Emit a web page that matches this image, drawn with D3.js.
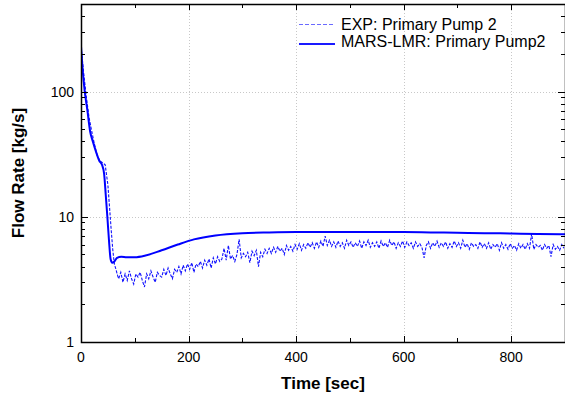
<html>

<head>
    <meta charset="UTF-8">
    <script src="https://d3js.org/d3.v7.min.js"></script>
    <title>Primary pump flow</title>
    <style>
        body { margin: 0; background: #fff; }
        text { font-family: Arial, "Liberation Sans", sans-serif; }
    </style>
</head>

<body>
    <svg width="565" height="398"></svg>

    <script>
        // MARS-LMR calculation (solid line)
        const marsTime = [0, 3, 7, 12, 17, 22, 28, 34, 39, 43, 46, 49, 52, 55, 58, 62, 67, 75, 85, 100,
            120, 150, 180, 210, 250, 300, 350, 400, 450, 500, 550, 600, 650, 700, 750, 800, 850, 900];
        const marsFlow = [230, 150, 100, 70, 48, 40, 33, 28, 26, 22, 15, 10, 6.5, 4.6, 4.3, 4.4, 4.7, 4.8, 4.75, 4.75,
            4.9, 5.4, 6.0, 6.6, 7.1, 7.4, 7.5, 7.55, 7.55, 7.55, 7.55, 7.55, 7.5, 7.45, 7.4, 7.35, 7.3, 7.25];

        // experiment, start of transient
        const expEarlyTime = [0, 5, 10, 15, 20, 25, 30, 35, 40, 45, 50, 53, 56, 59, 62, 65, 68];
        const expEarlyFlow = [230, 140, 90, 62, 48, 38, 31, 28, 27, 26, 18, 12, 8, 5.5, 4.2, 3.8, 3.4];

        // experiment, noisy part: one reading every 4 s from t = 70 s
        const expNoiseStart = 70;
        const expNoiseStep = 4;
        const expNoiseFlow = [
            3.2, 3.6, 3.0, 3.5, 3.1, 3.7, 3.2, 2.9, 3.5, 3.3,
            3.6, 3.1, 2.75, 3.5, 3.2, 3.7, 3.3, 3.0, 3.6, 3.4,
            3.3, 3.8, 3.4, 3.9, 3.5, 3.2, 3.8, 3.6, 4.0, 3.5,
            4.1, 3.7, 4.2, 3.8, 4.3, 3.6, 4.2, 4.0, 4.4, 3.9,
            4.5, 4.1, 4.6, 3.9, 4.7, 4.2, 4.8, 4.4, 4.6, 5.6,
            4.5, 5.9, 4.6, 4.9, 4.4, 5.0, 6.6, 4.7, 5.1, 4.8,
            5.2, 4.3, 5.3, 4.9, 5.4, 4.0, 5.2, 4.8, 5.5, 5.1,
            5.6, 5.1, 5.7, 5.2, 5.8, 5.3, 5.6, 5.0, 5.9, 5.4,
            5.8, 5.3, 6.0, 5.5, 6.1, 5.4, 6.0, 5.6, 6.2, 5.7,
            6.2, 5.6, 6.3, 5.7, 6.4, 5.8, 7.0, 5.9, 6.5, 5.8,
            6.3, 5.7, 6.4, 5.8, 6.2, 5.6, 6.5, 5.9, 6.3, 5.7,
            6.2, 5.8, 6.4, 5.6, 6.3, 5.9, 6.5, 5.7, 6.2, 5.8,
            6.3, 5.6, 6.4, 5.8, 6.2, 5.7, 6.5, 5.9, 6.3, 5.6,
            6.2, 5.8, 6.4, 5.7, 6.3, 5.9, 6.2, 5.6, 6.3, 5.8,
            6.1, 5.7, 4.7, 5.9, 6.3, 5.6, 6.2, 5.8, 6.4, 5.7,
            6.2, 5.8, 6.3, 5.6, 6.1, 5.7, 6.4, 5.8, 6.2, 5.6,
            6.5, 5.7, 6.1, 5.5, 6.2, 5.8, 6.0, 5.6, 6.3, 5.7,
            6.1, 5.6, 6.2, 5.5, 6.0, 5.7, 6.1, 5.4, 6.2, 5.6,
            6.0, 5.5, 6.1, 5.6, 5.9, 5.4, 6.1, 5.6, 6.0, 5.5,
            6.1, 5.6, 7.3, 5.5, 6.0, 5.7, 5.9, 5.4, 6.0, 5.6,
            5.9, 4.8, 6.0, 5.5, 5.8, 5.4, 6.0, 5.6
        ];

        const xMajor = [0, 200, 400, 600, 800];
        const xMinor = [100, 300, 500, 700, 900];
        const yMajor = [1, 10, 100];
        const yMinor = [2, 3, 4, 5, 6, 7, 8, 9, 20, 30, 40, 50, 60, 70, 80, 90, 200, 300, 400];
        const legendNames = ['EXP: Primary Pump 2', 'MARS-LMR: Primary Pump2'];

        const pLeft = 81, pRight = 565, pTop = 4, pBottom = 342;
        const svg = d3.select('svg');

        const x = d3.scaleLinear().domain([0, 900]).range([pLeft, pRight]);
        const y = d3.scaleLog().domain([1, 500]).range([pBottom, pTop]);

        // dotted grid at major ticks
        const grid = svg.append('g')
            .attr('stroke', '#c8c8c8')
            .attr('stroke-width', 1)
            .attr('stroke-dasharray', '1,2');
        grid.selectAll('.gx').data(xMajor.slice(1)).join('line')
            .attr('x1', d => Math.round(x(d)) + 0.5).attr('x2', d => Math.round(x(d)) + 0.5)
            .attr('y1', pTop).attr('y2', pBottom);
        grid.selectAll('.gy').data(yMajor.slice(1)).join('line')
            .attr('y1', d => Math.round(y(d)) + 0.5).attr('y2', d => Math.round(y(d)) + 0.5)
            .attr('x1', pLeft).attr('x2', pRight);

        // data
        const expData = expEarlyTime.map((t, i) => [t, expEarlyFlow[i]])
            .concat(expNoiseFlow.map((v, i) => [expNoiseStart + i * expNoiseStep, v]));
        const marsData = marsTime.map((t, i) => [t, marsFlow[i]]);

        const line = d3.line().x(d => x(d[0])).y(d => y(d[1]));
        const smooth = d3.line().x(d => x(d[0])).y(d => y(d[1])).curve(d3.curveMonotoneX);

        svg.append('defs').append('clipPath').attr('id', 'clip')
            .append('rect').attr('x', pLeft).attr('y', pTop)
            .attr('width', pRight - pLeft).attr('height', pBottom - pTop);

        const plot = svg.append('g').attr('clip-path', 'url(#clip)');
        plot.append('path').datum(expData)
            .attr('d', line)
            .attr('fill', 'none')
            .attr('stroke', '#1010ff')
            .attr('stroke-width', 1.1)
            .attr('stroke-dasharray', '3,1.5');
        plot.append('path').datum(marsData)
            .attr('d', smooth)
            .attr('fill', 'none')
            .attr('stroke', '#0000ff')
            .attr('stroke-width', 2);

        // axes: ticks point inward on all four sides
        const frame = svg.append('g').attr('stroke', '#000');
        frame.append('rect')
            .attr('x', pLeft + 0.5).attr('y', pTop + 0.5)
            .attr('width', pRight - pLeft).attr('height', pBottom - pTop)
            .attr('fill', 'none').attr('stroke-width', 1.5);

        function xTicks(vals, len) {
            vals.forEach(function (d) {
                const px = Math.round(x(d)) + 0.5;
                frame.append('line').attr('x1', px).attr('x2', px).attr('y1', pBottom).attr('y2', pBottom - len);
                frame.append('line').attr('x1', px).attr('x2', px).attr('y1', pTop).attr('y2', pTop + len);
            });
        }
        function yTicks(vals, len) {
            vals.forEach(function (d) {
                const py = Math.round(y(d)) + 0.5;
                frame.append('line').attr('y1', py).attr('y2', py).attr('x1', pLeft).attr('x2', pLeft + len);
                frame.append('line').attr('y1', py).attr('y2', py).attr('x1', pRight).attr('x2', pRight - len);
            });
        }
        xTicks(xMajor, 6);
        xTicks(xMinor, 4);
        yTicks(yMajor, 7);
        yTicks(yMinor, 4);

        svg.append('g').selectAll('text').data(xMajor).join('text')
            .attr('x', d => x(d)).attr('y', 362)
            .attr('text-anchor', 'middle')
            .attr('font-size', 14)
            .text(d => d);
        svg.append('g').selectAll('text').data(yMajor).join('text')
            .attr('x', 74).attr('y', d => y(d) + 5)
            .attr('text-anchor', 'end')
            .attr('font-size', 14)
            .text(d => d);

        svg.append('text')
            .attr('x', 323).attr('y', 389)
            .attr('text-anchor', 'middle')
            .attr('font-size', 17).attr('font-weight', 'bold')
            .text('Time [sec]');
        svg.append('text')
            .attr('transform', 'translate(24,173) rotate(-90)')
            .attr('text-anchor', 'middle')
            .attr('font-size', 17).attr('font-weight', 'bold')
            .text('Flow Rate [kg/s]');

        // legend
        const legend = svg.append('g');
        const legendStyles = [
            { color: '#6a6aff', width: 1.2, dash: '4,2' },
            { color: '#1a1aff', width: 2, dash: null }
        ];
        legend.selectAll('line').data(legendNames).join('line')
            .attr('x1', 299).attr('x2', 335)
            .attr('y1', (d, i) => 24.5 + i * 19.5).attr('y2', (d, i) => 24.5 + i * 19.5)
            .attr('stroke', (d, i) => legendStyles[i].color)
            .attr('stroke-width', (d, i) => legendStyles[i].width)
            .attr('stroke-dasharray', (d, i) => legendStyles[i].dash);
        legend.selectAll('text').data(legendNames).join('text')
            .attr('x', 341).attr('y', (d, i) => 30 + i * 17)
            .attr('font-size', 16)
            .text(d => d);
    </script>
</body>

</html>
